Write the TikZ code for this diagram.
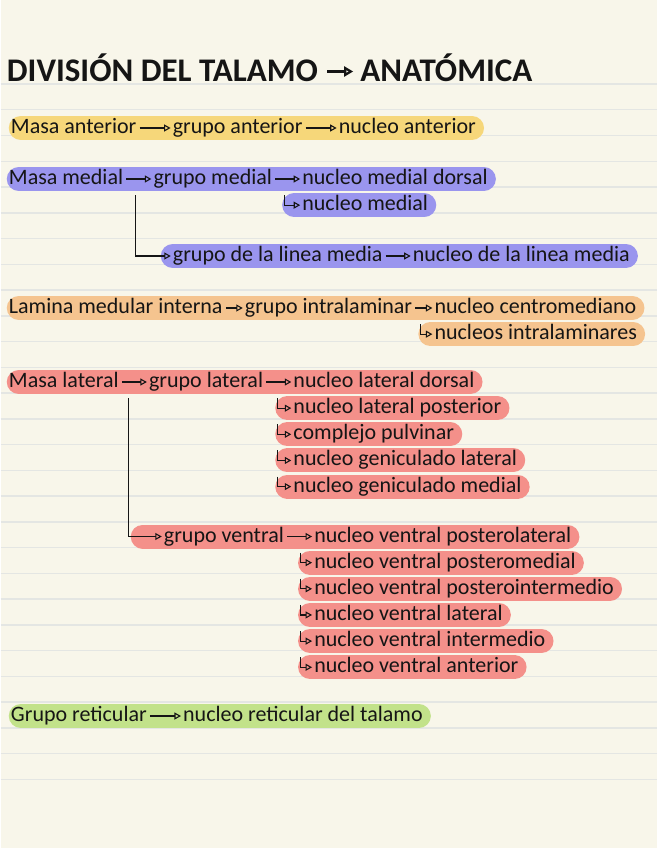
\documentclass[tikz,border=0pt]{standalone}
\usepackage{fontspec}
\setmainfont{Carlito}
\usetikzlibrary{arrows.meta, calc, positioning, backgrounds}
\definecolor{paper}{HTML}{F8F6EA}
\definecolor{paperline}{HTML}{E4E6E3}
\definecolor{ink}{HTML}{151515}
\definecolor{hlyellow}{HTML}{F6D77A}
\definecolor{hlpurple}{HTML}{9A95EE}
\definecolor{hlorange}{HTML}{F5C48F}
\definecolor{hlred}{HTML}{F4908A}
\definecolor{hlgreen}{HTML}{C2E28A}
\tikzstyle{headline} = [anchor=west, inner sep=0pt, text height=21pt, text depth=0pt, font=\fontsize{33}{36}\selectfont\bfseries, text=ink]
\tikzstyle{term} = [anchor=west, inner sep=0pt, minimum height=25.75pt, text height=16pt, text depth=5pt, font=\fontsize{22}{24}\selectfont, text=ink]
\tikzstyle{arrow} = [ink, line width=1.1pt, -{Triangle[open, length=6.5pt, width=7pt]}, shorten <=3pt, shorten >=2pt]
\tikzstyle{highlighter} = [line width=24pt, line cap=round]

\begin{document}
\begin{tikzpicture}[x=1pt, y=-1pt, node distance = 30pt]
		% paper
		\begin{scope}[on background layer]
		\fill [paper] (0,0) rectangle (656,848);
		\foreach \k in {0,...,27}
			\draw [paperline, line width=1.5pt] (0,84+25.75*\k) -- (656,84+25.75*\k);
		\end{scope}
		\useasboundingbox (0,0) rectangle (656,848);
		% title
		\node (TitleDivision) [headline] at (6,71.5) {DIVISIÓN DEL TALAMO};
		\node (TitleAnatomica) [headline, right = 42pt of TitleDivision] {ANATÓMICA};
		\draw [arrow, line width=2.2pt, -{Triangle[open, length=9pt, width=10pt]}, shorten <=9pt, shorten >=7pt] (TitleDivision) -- (TitleAnatomica);
		% masa anterior
		\node (MasaAnterior) [term] at (10,128) {Masa anterior};
		\node (GrupoAnterior) [term, right = 36pt of MasaAnterior] {grupo anterior};
		\node (NucleoAnterior) [term, right = 36pt of GrupoAnterior] {nucleo anterior};
		\draw [arrow] (MasaAnterior) -- (GrupoAnterior);
		\draw [arrow] (GrupoAnterior) -- (NucleoAnterior);
		% masa medial
		\node (MasaMedial) [term] at (8,179) {Masa medial};
		\node (GrupoMedial) [term, right = of MasaMedial] {grupo medial};
		\node (NucleoMedialDorsal) [term, right = of GrupoMedial] {nucleo medial dorsal};
		\node (NucleoMedial) [term, below = 0pt of NucleoMedialDorsal.south west, anchor=north west] {nucleo medial};
		\node (GrupoLineaMedia) [term] at (172,256) {grupo de la linea media};
		\node (NucleoLineaMedia) [term, right = of GrupoLineaMedia] {nucleo de la linea media};
		\draw [arrow] (MasaMedial) -- (GrupoMedial);
		\draw [arrow] (GrupoMedial) -- (NucleoMedialDorsal);
		\draw [arrow] ([xshift=-18pt]NucleoMedialDorsal.south west) |- (NucleoMedial);
		\draw [arrow] ([xshift=12pt]MasaMedial.south east) |- (GrupoLineaMedia);
		\draw [arrow] (GrupoLineaMedia) -- (NucleoLineaMedia);
		% lamina medular interna
		\node (LaminaMedular) [term] at (8,308) {Lamina medular interna};
		\node (GrupoIntralaminar) [term, right = 22pt of LaminaMedular] {grupo intralaminar};
		\node (NucleoCentromediano) [term, right = 22pt of GrupoIntralaminar] {nucleo centromediano};
		\node (NucleosIntralaminares) [term, below = 0pt of NucleoCentromediano.south west, anchor=north west] {nucleos intralaminares};
		\draw [arrow] (LaminaMedular) -- (GrupoIntralaminar);
		\draw [arrow] (GrupoIntralaminar) -- (NucleoCentromediano);
		\draw [arrow] ([xshift=-14pt]NucleoCentromediano.south west) |- (NucleosIntralaminares);
		% masa lateral
		\node (MasaLateral) [term] at (8,382) {Masa lateral};
		\node (GrupoLateral) [term, right = of MasaLateral] {grupo lateral};
		\node (NucleoLateralDorsal) [term, right = of GrupoLateral] {nucleo lateral dorsal};
		\node (NucleoLateralPosterior) [term, below = 0pt of NucleoLateralDorsal.south west, anchor=north west] {nucleo lateral posterior};
		\node (ComplejoPulvinar) [term, below = 0pt of NucleoLateralPosterior.south west, anchor=north west] {complejo pulvinar};
		\node (GeniculadoLateral) [term, below = 0pt of ComplejoPulvinar.south west, anchor=north west] {nucleo geniculado lateral};
		\node (GeniculadoMedial) [term, below = 0pt of GeniculadoLateral.south west, anchor=north west] {nucleo geniculado medial};
		\draw [arrow] (MasaLateral) -- (GrupoLateral);
		\draw [arrow] (GrupoLateral) -- (NucleoLateralDorsal);
		\draw [arrow] ([xshift=-16pt]NucleoLateralDorsal.south west) |- (NucleoLateralPosterior);
		\draw [arrow] ([xshift=-16pt]NucleoLateralPosterior.south west) |- (ComplejoPulvinar);
		\draw [arrow] ([xshift=-16pt]ComplejoPulvinar.south west) |- (GeniculadoLateral);
		\draw [arrow] ([xshift=-16pt]GeniculadoLateral.south west) |- (GeniculadoMedial);
		% grupo ventral
		\node (GrupoVentral) [term] at (163,536.5) {grupo ventral};
		\node (VentralPosterolateral) [term, right = of GrupoVentral] {nucleo ventral posterolateral};
		\node (VentralPosteromedial) [term, below = 0pt of VentralPosterolateral.south west, anchor=north west] {nucleo ventral posteromedial};
		\node (VentralPosterointermedio) [term, below = 0pt of VentralPosteromedial.south west, anchor=north west] {nucleo ventral posterointermedio};
		\node (VentralLateral) [term, below = 0pt of VentralPosterointermedio.south west, anchor=north west] {nucleo ventral lateral};
		\node (VentralIntermedio) [term, below = 0pt of VentralLateral.south west, anchor=north west] {nucleo ventral intermedio};
		\node (VentralAnterior) [term, below = 0pt of VentralIntermedio.south west, anchor=north west] {nucleo ventral anterior};
		\draw [arrow] ([xshift=10pt]MasaLateral.south east) |- (GrupoVentral);
		\draw [arrow] (GrupoVentral) -- (VentralPosterolateral);
		\draw [arrow] ([xshift=-14pt]VentralPosterolateral.south west) |- (VentralPosteromedial);
		\draw [arrow] ([xshift=-14pt]VentralPosteromedial.south west) |- (VentralPosterointermedio);
		\draw [arrow] ([xshift=-14pt]VentralPosterointermedio.south west) |- (VentralLateral);
		\draw [arrow] ([xshift=-14pt]VentralLateral.south west) |- (VentralIntermedio);
		\draw [arrow] ([xshift=-14pt]VentralIntermedio.south west) |- (VentralAnterior);
		% grupo reticular
		\node (GrupoReticular) [term] at (10,716) {Grupo reticular};
		\node (NucleoReticular) [term, right = 36pt of GrupoReticular] {nucleo reticular del talamo};
		\draw [arrow] (GrupoReticular) -- (NucleoReticular);
		% highlighter
		\begin{scope}[on background layer]
		\draw [highlighter, hlyellow] ([xshift=10pt]MasaAnterior.west) -- ([xshift=-4pt]NucleoAnterior.east);
		\draw [highlighter, hlpurple] ([xshift=10pt]MasaMedial.west) -- ([xshift=-4pt]NucleoMedialDorsal.east);
		\draw [highlighter, hlpurple] ([xshift=-8pt]NucleoMedial.west) -- ([xshift=-4pt]NucleoMedial.east);
		\draw [highlighter, hlpurple] (GrupoLineaMedia.west) -- ([xshift=-4pt]NucleoLineaMedia.east);
		\draw [highlighter, hlorange] ([xshift=10pt]LaminaMedular.west) -- ([xshift=-4pt]NucleoCentromediano.east);
		\draw [highlighter, hlorange] ([xshift=-4pt]NucleosIntralaminares.west) -- ([xshift=-4pt]NucleosIntralaminares.east);
		\draw [highlighter, hlred] ([xshift=10pt]MasaLateral.west) -- ([xshift=-4pt]NucleoLateralDorsal.east);
		\draw [highlighter, hlred] ([xshift=-6pt]NucleoLateralPosterior.west) -- ([xshift=-4pt]NucleoLateralPosterior.east);
		\draw [highlighter, hlred] ([xshift=-6pt]ComplejoPulvinar.west) -- ([xshift=-4pt]ComplejoPulvinar.east);
		\draw [highlighter, hlred] ([xshift=-6pt]GeniculadoLateral.west) -- ([xshift=-4pt]GeniculadoLateral.east);
		\draw [highlighter, hlred] ([xshift=-6pt]GeniculadoMedial.west) -- ([xshift=-4pt]GeniculadoMedial.east);
		\draw [highlighter, hlred] ([xshift=-21pt]GrupoVentral.west) -- ([xshift=-4pt]VentralPosterolateral.east);
		\draw [highlighter, hlred] ([xshift=-4pt]VentralPosteromedial.west) -- ([xshift=-4pt]VentralPosteromedial.east);
		\draw [highlighter, hlred] ([xshift=-4pt]VentralPosterointermedio.west) -- ([xshift=-4pt]VentralPosterointermedio.east);
		\draw [highlighter, hlred] ([xshift=-4pt]VentralLateral.west) -- ([xshift=-4pt]VentralLateral.east);
		\draw [highlighter, hlred] ([xshift=-4pt]VentralIntermedio.west) -- ([xshift=-4pt]VentralIntermedio.east);
		\draw [highlighter, hlred] ([xshift=-4pt]VentralAnterior.west) -- ([xshift=-4pt]VentralAnterior.east);
		\draw [highlighter, hlgreen] ([xshift=10pt]GrupoReticular.west) -- ([xshift=-4pt]NucleoReticular.east);
		\end{scope}
\end{tikzpicture}
\end{document}
